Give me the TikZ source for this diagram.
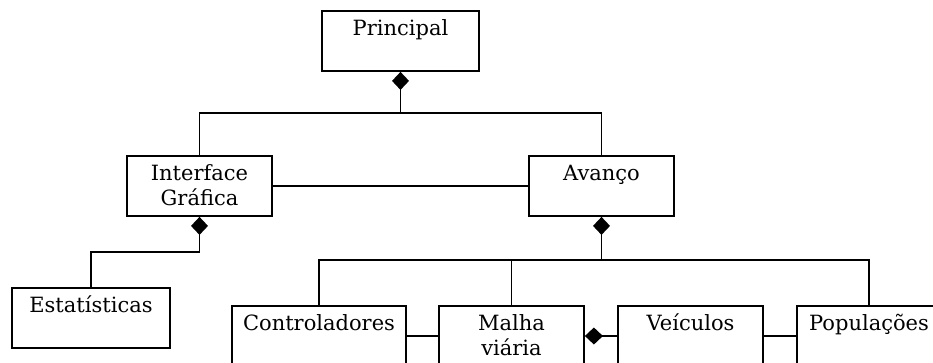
\documentclass[tikz,border=0pt]{standalone}
\usepackage{fontspec}
\setmainfont{DejaVu Serif}
\usetikzlibrary{arrows.meta}

\tikzset{
  cls/.style={draw, line width=1.8pt, minimum width=#1, minimum height=60pt, inner sep=0pt},
  lbl/.style={anchor=base, inner sep=0pt, align=center,
              font=\fontsize{21}{25}\selectfont},
  link/.style={line width=1.8pt},
  comp/.style={link, -{Diamond[length=18pt,width=17pt]}}
}

\begin{document}
\begin{tikzpicture}[x=1pt, y=-1pt]
  \useasboundingbox (0,0) rectangle (933,362);
  \clip (0,0) rectangle (933,362);

  % class boxes
  \node[cls=157pt] (principal) at (400.5,41)  {};
  \node[cls=145pt] (interface) at (199.5,186) {};
  \node[cls=145pt] (avanco)    at (601.5,186) {};
  \node[cls=158pt] (estat)     at (91,318)    {};
  \node[cls=174pt] (contr)     at (319,336)   {};
  \node[cls=145pt] (malha)     at (511.5,336) {};
  \node[cls=145pt] (veic)      at (690.5,336) {};
  \node[cls=144pt] (popul)     at (869,336)   {};

  % class names near the top of each box (base = baseline of the last line)
  \node[lbl] (principal-t) at ([yshift=-25.5pt]principal.north) {Principal};
  \node[lbl] (interface-t) at ([yshift=-50.5pt]interface.north) {Interface\\Gráfica};
  \node[lbl] (avanco-t)    at ([yshift=-25.5pt]avanco.north)    {Avanço};
  \node[lbl] (estat-t)     at ([yshift=-25.5pt]estat.north)     {Estatísticas};
  \node[lbl] (contr-t)     at ([yshift=-25.5pt]contr.north)     {Controladores};
  \node[lbl] (malha-t)     at ([yshift=-50.5pt]malha.north)     {Malha\\viária};
  \node[lbl] (veic-t)      at ([yshift=-25.5pt]veic.north)      {Veículos};
  \node[lbl] (popul-t)     at ([yshift=-25.5pt]popul.north)     {Populações};

  % junction points of the tree connectors
  \coordinate (jtop) at (400.5,113);
  \coordinate (jint) at (199.5,252);
  \coordinate (jav)  at (601.5,260);

  % Principal -> Interface Gráfica, Avanço
  \draw[link] (interface.north) |- (jtop) -| (avanco.north);
  \draw[comp] (jtop) -- (principal.south);

  % Interface Gráfica <-> Avanço
  \draw[link] (interface.east) -- (avanco.west);

  % Interface Gráfica -> Estatísticas
  \draw[comp] (estat.north) |- (jint) -- (interface.south);

  % Avanço -> Controladores, Malha viária, Populações
  \draw[link] (contr.north) |- (jav) -| (popul.north);
  \draw[link] (malha.north) -- (malha.north |- jav);
  \draw[comp] (jav) -- (avanco.south);

  % lower row associations
  \draw[link] (contr.east) -- (malha.west);
  \draw[comp] (veic.west) -- (malha.east);
  \draw[link] (veic.east) -- (popul.west);
\end{tikzpicture}
\end{document}
